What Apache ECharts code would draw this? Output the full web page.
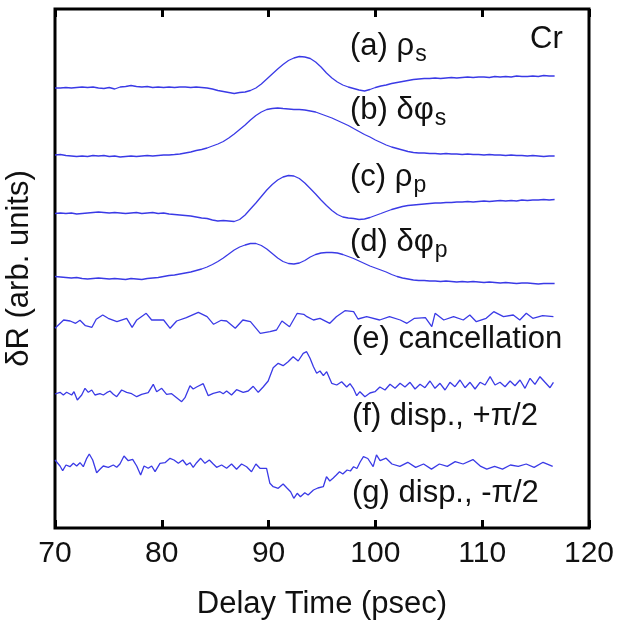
<!DOCTYPE html>
<html>
<head>
<meta charset="utf-8">
<script src="https://cdn.jsdelivr.net/npm/echarts@6/dist/echarts.min.js"></script>
<style>html,body{margin:0;padding:0;background:#fff}#c{width:619px;height:628px}</style>
</head>
<body>
<div id="c"></div>
<script>
// x tick labels
const xTicks = [70, 80, 90, 100, 110, 120];

// smooth traces: sample times (psec) and values (arb. units, stacked offsets included)
const tSmooth = [
  70.00,70.51,71.02,71.53,72.03,72.54,73.05,73.56,74.07,74.58,
  75.08,75.59,76.10,76.61,77.12,77.63,78.13,78.64,79.15,79.66,
  80.17,80.68,81.19,81.69,82.20,82.71,83.22,83.73,84.24,84.74,
  85.25,85.76,86.27,86.78,87.29,87.80,88.30,88.81,89.32,89.83,
  90.34,90.85,91.35,91.86,92.37,92.88,93.39,93.90,94.40,94.91,
  95.42,95.93,96.44,96.95,97.46,97.96,98.47,98.98,99.49,100.00,
  100.51,101.01,101.52,102.03,102.54,103.05,103.56,104.06,104.57,105.08,
  105.59,106.10,106.61,107.12,107.62,108.13,108.64,109.15,109.66,110.17,
  110.67,111.18,111.69,112.20,112.71,113.22,113.72,114.23,114.74,115.25,
  115.76,116.27,116.78
];
const rhoS = [
  440,440,440.5,440,440.5,441,440.5,441,440,439.5,
  440.5,439,441,441.5,442.5,441.5,441,441.5,440.5,441,
  440.5,441,440.5,441,441,440.5,441,440.5,440,439,
  437.5,436.5,435.5,434.5,435.5,436,437.5,440,444,449,
  454,459,463.5,467.5,470,471.5,471,469.5,466,461,
  455,450,446,443,441,439.5,438,437,438.5,440.5,
  442,443,444.5,445.5,446.5,447.5,448.5,449,449.5,449.5,
  450,449.5,450,450.5,450,450.5,451,450.5,451,451,
  450.5,451.5,451,451.5,451,452,451.5,451.5,452,451.5,
  452.5,452,452
];
const phiS = [
  373,373.5,372.5,372,371.5,372,371.5,372.5,372,372.5,
  371.5,372,371,371.5,372,371.5,372,372.5,372,372.5,
  373,373,373.5,374,375,376,377.5,378.5,380,382,
  384,386.5,390,394,398.5,403,408,412.5,416,418.5,
  419.5,420,419.5,419,418.5,418.5,418,417,416,414,
  412,410,407.5,405,402.5,399.5,396.5,393.5,391,388,
  385.5,383,381,379.5,378,376.5,375.5,375,375,374.5,
  374.5,374,374.5,374,374,373.5,374,373.5,373.5,373,
  373.5,373,373,372.5,373,372.5,372.5,372,372.5,372,
  371.5,372,372
];
const rhoP = [
  314.5,315,314.5,315,314,314.5,315,315.5,316,315.5,
  315,315.5,315,314.5,315,315.5,314.5,315,315.5,314.5,
  315,314,313.5,313,312.5,312,311,310,309.5,308,
  307,307.5,307,306.5,308.5,313,319,325,331.5,338,
  343.5,348,351,352.5,352,349.5,345,339.5,334,328,
  322.5,317.5,313.5,311,310,309.5,308.5,309,310.5,312.5,
  314.5,316.5,318.5,320,321.5,322.5,323,323.5,324,324.5,
  325,325,325.5,325.5,326,326,326.5,326,326.5,327,
  326.5,327,327.5,327,327.5,327,328,327.5,328,328,
  328.5,328,328.5
];
const phiP = [
  251.5,251,250.5,250,250.5,249.5,249,249.5,250,249.5,
  249,249.5,249,248.5,249.5,249,248.5,249.5,250,250.5,
  251.5,252.5,253,254,255,256,257.5,259,261,263.5,
  266.5,270,274,278,281,283,284.5,284.5,282.5,279,
  274.5,270,266.5,264.5,264,265,267.5,271,273.5,275,
  275.5,275.5,275,273.5,271.5,269.5,267,264.5,262,260,
  258,256,253.5,251.5,250,249,248,247.5,247.5,247,
  247,246.5,247,246.5,246,246.5,246,246.5,246,245.5,
  246,245.5,245,245.5,245,244.5,245,245,244.5,244,
  244.5,244.5,244.5
];

// (e) cancellation
const eTime = [70.00,70.81,71.42,71.93,72.34,72.85,73.46,73.86,74.47,74.98,
  75.80,76.71,77.22,77.63,78.54,79.05,80.17,80.78,81.39,82.30,
  83.42,84.24,84.85,85.56,86.07,86.88,87.59,88.30,89.22,90.13,
  90.74,91.25,91.96,92.68,93.29,93.59,94.20,94.81,95.73,96.34,
  97.15,97.96,98.37,99.18,100.40,101.32,102.33,102.95,103.66,104.68,
  105.28,105.59,106.40,107.32,108.23,108.84,109.45,110.37,111.08,111.99,
  112.91,113.52,114.13,114.74,115.66,116.67];
const eVals = [199.7,208,207,204.7,207.7,202.3,200.7,208.7,213,209.7,
  206.3,209.7,200.7,207.7,214.7,208,208,199.7,207,210.3,
  215.7,211.3,203.7,207.7,207,199.7,208,206.3,194.7,196.3,
  198,207,201.3,214.7,213.7,211.3,208,209.7,204.7,211.3,
  217.3,216.3,209,211.3,208,211.3,208,204.7,209.7,210.3,
  201.3,214.7,208,211.3,208,213,206.3,209.7,216.3,211.3,
  213,208,214.7,209.7,212.3,211.3];

// (f) disp., +pi/2
const fTime = [70.00,70.47,70.78,71.09,71.25,71.56,71.78,72.09,72.50,72.81,
  73.12,73.44,73.74,74.21,74.53,74.84,75.15,75.46,75.78,76.24,
  76.71,77.18,77.65,78.11,78.73,79.20,79.52,79.99,80.45,80.92,
  81.39,81.86,82.17,82.64,82.94,83.26,83.88,84.35,84.82,85.45,
  85.75,86.07,86.53,87.00,87.62,88.09,88.56,89.03,89.49,89.96,
  90.43,90.90,91.36,91.83,92.30,92.77,93.24,93.56,93.88,94.20,
  94.50,94.81,95.13,95.44,95.91,96.38,96.84,97.31,97.62,97.93,
  98.25,98.55,99.02,99.49,99.96,100.42,100.90,101.37,101.84,102.31,
  102.77,103.24,103.71,104.18,104.64,105.11,105.58,106.05,106.52,106.98,
  107.45,107.92,108.39,108.86,109.33,109.80,110.27,110.74,111.20,111.67,
  112.14,112.61,113.07,113.54,114.01,114.48,114.94,115.41,115.88,116.35,
  116.67];
const fVals = [134,135.7,133,135.7,137,133,136.3,128,133,139.7,
  135.7,138,133,134.3,133,135.3,137,133.7,131.3,138,
  135.7,134.3,131.3,133.7,135.3,143.7,136.3,139.7,133.7,134.3,
  130.3,126.3,130.3,142.3,139,141,144.3,132.3,134.7,136.3,
  134.3,137,133,138.3,135.7,137,141.7,135.7,141,147,
  160.3,164.7,162.3,166.3,171.3,167,174.7,176.3,169.7,161.3,
  154.7,157,152.3,156.3,144.7,143,146.3,141,144.3,139.7,
  132.3,136.3,131.3,135,136.3,141,138,143.7,139.7,144.7,
  141,145.7,139,143.7,140.3,147,139.7,144.7,138,145.7,
  141.3,148,140.3,145.7,139,145.7,143,151.3,143,145.7,
  141.3,147,142.3,148,139.7,149.7,143.7,151.3,145.7,140.3,
  145.7];

// (g) disp., -pi/2
const gTime = [70.00,70.47,70.72,71.03,71.40,71.72,72.03,72.34,72.65,72.97,
  73.21,73.53,73.90,74.21,74.52,74.99,75.46,75.78,76.08,76.46,
  76.86,77.27,77.65,78.02,78.34,78.73,79.05,79.37,79.83,80.30,
  80.77,81.14,81.55,81.96,82.32,82.64,82.94,83.26,83.64,84.04,
  84.45,84.82,85.13,85.60,86.07,86.53,87.00,87.47,87.94,88.40,
  88.81,89.19,89.81,90.12,90.43,90.90,91.36,91.74,92.06,92.36,
  92.68,92.98,93.39,93.70,94.20,94.61,95.12,95.42,95.73,96.03,
  96.34,96.64,96.95,97.35,97.66,97.96,98.27,98.57,98.88,99.29,
  99.79,100.10,100.44,101.00,101.55,102.29,103.03,103.77,104.51,105.25,
  105.99,106.73,107.47,108.21,109.13,109.87,110.43,111.16,111.90,112.64,
  113.38,114.12,114.86,115.70,116.60];
const gVals = [68,62,57.3,63,61.3,64.7,62,65.3,61.3,69.7,
  74,68,55.3,58.7,62,60.7,63,60.7,64,72,
  67.3,68.7,62,53,62,59.7,62,56.3,64.7,65.3,
  69.7,68,64.7,68,63,65.3,60.7,65.3,69.7,64.7,
  68,64,60.7,63,59.7,64,58.7,64,61.3,56.3,
  64,59.7,59.7,44.7,41.3,39.7,44,39.7,36.3,29.7,
  34.7,31.3,35.3,33,38,40,41.3,51.3,47,49.7,
  53,56.3,54,58,57,61.3,59.5,66,71.3,69.5,
  61.3,73.2,67.4,69.8,64,61.6,65.7,60.6,64,58.9,
  64,61.6,66.4,64,68.4,61.6,58.9,61.6,58.9,63,
  61.6,64,60.6,65.7,61.6];

const FONT = "'Liberation Sans', Arial, sans-serif";
const BLUE = '#3a3ae6';

function pairs(t, v) { return t.map((x, i) => [x, v[i]]); }

const seriesDefs = [
  pairs(tSmooth, rhoS), pairs(tSmooth, phiS), pairs(tSmooth, rhoP), pairs(tSmooth, phiP),
  pairs(eTime, eVals), pairs(fTime, fVals), pairs(gTime, gVals)
];

const labelFS = 31, tickFS = 30, subFS = 23;
function lab(x, y, text) {
  return {
    type: 'text', x: x, y: y, z: 100,
    style: {
      text: text, fill: '#111', fontFamily: FONT, fontSize: labelFS,
      align: 'left', verticalAlign: 'middle',
      rich: { sub: { fontFamily: FONT, fontSize: subFS, padding: [18, 0, 0, 1], fill: '#111' } }
    }
  };
}

const chart = echarts.init(document.getElementById('c'), null, { renderer: 'canvas' });
chart.setOption({
  animation: false,
  backgroundColor: '#fff',
  grid: { left: 55, right: 30, top: 9, bottom: 100, containLabel: false, outerBoundsMode: 'none',
          show: true, borderColor: '#000', borderWidth: 3, backgroundColor: 'transparent' },
  xAxis: [
    {
      type: 'value', min: xTicks[0], max: xTicks[xTicks.length - 1], interval: 10,
      position: 'bottom',
      name: 'Delay Time (psec)', nameLocation: 'middle', nameGap: 61,
      nameTextStyle: { fontFamily: FONT, fontSize: labelFS, color: '#111' },
      axisLine: { show: false },
      axisTick: { show: true, inside: true, length: 8, lineStyle: { color: '#000', width: 3 } },
      axisLabel: { fontFamily: FONT, fontSize: tickFS, color: '#111', margin: 11 },
      splitLine: { show: false }
    },
    {
      type: 'value', min: xTicks[0], max: xTicks[xTicks.length - 1], interval: 10,
      position: 'top',
      axisLine: { show: false },
      axisTick: { show: true, inside: true, length: 8, lineStyle: { color: '#000', width: 3 } },
      axisLabel: { show: false },
      splitLine: { show: false }
    }
  ],
  yAxis: {
    type: 'value', min: 0, max: 519,
    name: 'δR (arb. units)', nameLocation: 'middle', nameGap: 20,
    nameTextStyle: { fontFamily: FONT, fontSize: labelFS, color: '#111' },
    axisLine: { show: false }, axisTick: { show: false }, axisLabel: { show: false },
    splitLine: { show: false }
  },
  series: seriesDefs.map(d => ({
    type: 'line', data: d, showSymbol: false, symbol: 'none',
    lineStyle: { color: BLUE, width: 1.3 }, silent: true
  })),
  graphic: [
    lab(530, 39, 'Cr'),
    lab(350, 46, '(a) ρ{sub|s}'),
    lab(350, 110, '(b) δφ{sub|s}'),
    lab(350, 177, '(c) ρ{sub|p}'),
    lab(350, 242, '(d) δφ{sub|p}'),
    lab(352, 339, '(e) cancellation'),
    lab(352, 416, '(f) disp., +π/2'),
    lab(352, 493, '(g) disp., -π/2')
  ]
});
</script>
</body>
</html>
